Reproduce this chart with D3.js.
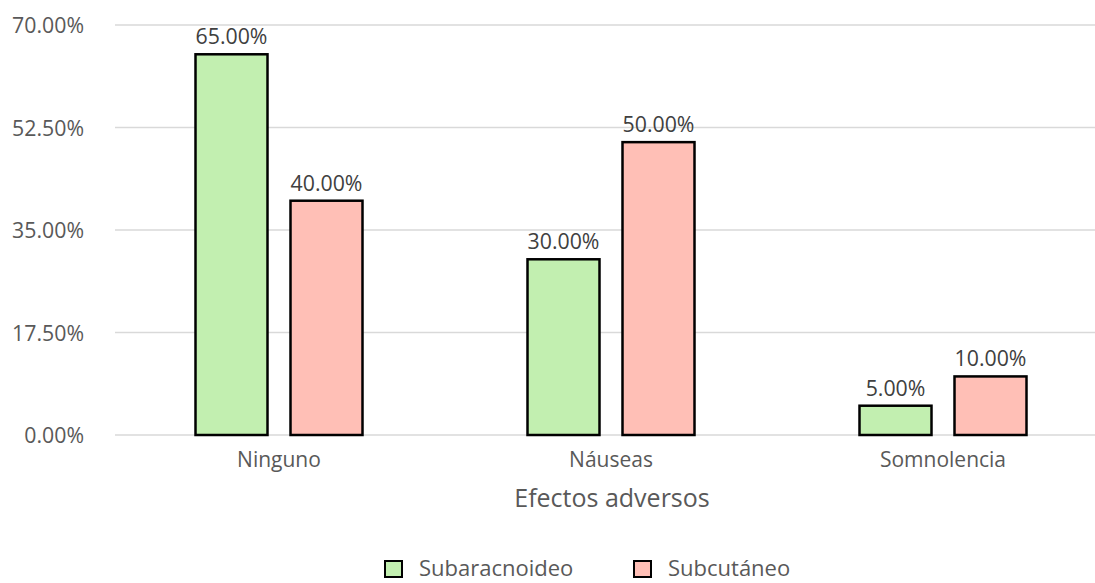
<!DOCTYPE html>
<html><head><meta charset="utf-8">
<script src="https://cdn.jsdelivr.net/npm/d3@7"></script>
<style>body{margin:0;background:#fff}text{font-family:"Open Sans",sans-serif}</style>
</head><body><svg id="c" width="1095" height="583"></svg>
<script>
const categories = ["Ninguno", "Náuseas", "Somnolencia"];
const seriesNames = ["Subaracnoideo", "Subcutáneo"];
const subaracnoideo = [65, 30, 5];
const subcutaneo = [40, 50, 10];
const yTicks = [0, 17.5, 35, 52.5, 70];
const colors = ["#c2efb0", "#ffbfb6"];

const svg = d3.select("#c");
const x = d3.scaleBand().domain(categories).range([113, 1109]);
const y = d3.scaleLinear().domain([0, 70]).range([435, 25]);
const textColor = "#595959";

svg.selectAll("line.g").data(yTicks).enter().append("line")
  .attr("x1", 115).attr("x2", 1095)
  .attr("y1", d => y(d)).attr("y2", d => y(d))
  .attr("stroke", "#d9d9d9").attr("stroke-width", 1.5);
svg.selectAll("text.yt").data(yTicks).enter().append("text")
  .attr("x", 84).attr("y", d => y(d) + 8).attr("text-anchor", "end")
  .attr("font-size", 21.3).attr("fill", textColor)
  .text(d => d.toFixed(2) + "%");

const data = [subaracnoideo, subcutaneo];
const bw = 72, gap = 23;
data.forEach((vals, s) => {
  const off = s === 0 ? -(gap / 2 + bw) : gap / 2;
  const g = svg.append("g");
  g.selectAll("rect").data(vals).enter().append("rect")
    .attr("x", (d, i) => x(categories[i]) + x.bandwidth() / 2 + off)
    .attr("y", d => y(d)).attr("width", bw).attr("height", d => y(0) - y(d))
    .attr("fill", colors[s]).attr("stroke", "#000").attr("stroke-width", 2.5);
  g.selectAll("text").data(vals).enter().append("text")
    .attr("x", (d, i) => x(categories[i]) + x.bandwidth() / 2 + off + bw / 2)
    .attr("y", d => y(d) - 10).attr("text-anchor", "middle")
    .attr("font-size", 21.3).attr("fill", "#404040")
    .text(d => d.toFixed(2) + "%");
});

svg.selectAll("text.xl").data(categories).enter().append("text")
  .attr("x", d => x(d) + x.bandwidth() / 2).attr("y", 467)
  .attr("text-anchor", "middle").attr("font-size", 21).attr("fill", textColor)
  .text(d => d);

svg.append("text").attr("x", 612).attr("y", 507).attr("text-anchor", "middle")
  .attr("font-size", 25).attr("fill", textColor).text("Efectos adversos");

const legX = [385, 634];
seriesNames.forEach((n, i) => {
  svg.append("rect").attr("x", legX[i]).attr("y", 561).attr("width", 17).attr("height", 16)
    .attr("fill", colors[i]).attr("stroke", "#000").attr("stroke-width", 2);
  svg.append("text").attr("x", legX[i] + 34).attr("y", 576)
    .attr("font-size", 22).attr("fill", textColor).text(n);
});
</script></body></html>
